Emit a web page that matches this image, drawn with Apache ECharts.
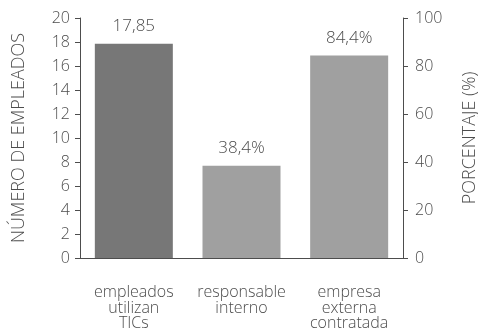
<!DOCTYPE html>
<html>
<head>
<meta charset="utf-8">
<script src="https://cdn.jsdelivr.net/npm/echarts@6/dist/echarts.min.js"></script>
<style>
  html, body { margin: 0; padding: 0; background: #fff; }
  #chart { width: 478px; height: 328px; }
</style>
</head>
<body>
<div id="chart"></div>
<script>
// Categories and values
const categories = ['empleados\nutilizan\nTICs', 'responsable\ninterno', 'empresa\nexterna\ncontratada'];
const employeeCounts = [17.85, '-', '-'];
const percentages = ['-', 38.4, 84.4];
const leftTicks = { min: 0, max: 20, interval: 2 };
const rightTicks = { min: 0, max: 100, interval: 20 };

const textColor = '#4d4d4d';
const font = '"Open Sans", sans-serif';
const weight = 300;

const chart = echarts.init(document.getElementById('chart'));
chart.setOption({
  animation: false,
  textStyle: { fontFamily: font },
  grid: { left: 80, right: 75, top: 18, bottom: 70, containLabel: false, outerBoundsMode: 'none' },
  xAxis: {
    type: 'category',
    data: categories,
    axisLine: { lineStyle: { color: textColor, width: 1 } },
    axisTick: { length: 5, lineStyle: { color: textColor } },
    axisLabel: { color: textColor, fontSize: 16, fontWeight: weight, lineHeight: 15.5, margin: 27, interval: 0, fontFamily: font }
  },
  yAxis: [
    {
      type: 'value',
      min: leftTicks.min, max: leftTicks.max, interval: leftTicks.interval,
      name: 'NÚMERO DE EMPLEADOS',
      nameLocation: 'middle',
      nameGap: 52,
      nameTextStyle: { color: textColor, fontSize: 18, fontWeight: weight, fontFamily: font },
      axisLine: { show: true, lineStyle: { color: textColor } },
      axisTick: { show: true, length: 5, lineStyle: { color: textColor } },
      axisLabel: { color: textColor, fontSize: 16, fontWeight: weight, margin: 10, fontFamily: font },
      splitLine: { show: false }
    },
    {
      type: 'value',
      position: 'right',
      min: rightTicks.min, max: rightTicks.max, interval: rightTicks.interval,
      name: 'PORCENTAJE (%)',
      nameLocation: 'middle',
      nameGap: 58,
      nameTextStyle: { color: textColor, fontSize: 18, fontWeight: weight, fontFamily: font },
      axisLine: { show: true, lineStyle: { color: textColor } },
      axisTick: { show: true, length: 5, lineStyle: { color: textColor } },
      axisLabel: { color: textColor, fontSize: 16, fontWeight: weight, margin: 12, fontFamily: font },
      splitLine: { show: false }
    }
  ],
  series: [
    {
      type: 'bar',
      yAxisIndex: 0,
      data: employeeCounts,
      barWidth: 78,
      barGap: '-100%',
      itemStyle: { color: '#777777' },
      label: {
        show: true, position: 'top', distance: 9,
        color: textColor, fontSize: 17, fontWeight: weight, fontFamily: font,
        formatter: p => String(p.value).replace('.', ',')
      }
    },
    {
      type: 'bar',
      yAxisIndex: 1,
      data: percentages,
      barWidth: 78,
      barGap: '-100%',
      itemStyle: { color: '#a0a0a0' },
      label: {
        show: true, position: 'top', distance: 9,
        color: textColor, fontSize: 17, fontWeight: weight, fontFamily: font,
        formatter: p => String(p.value).replace('.', ',') + '%'
      }
    }
  ]
});
</script>
</body>
</html>
